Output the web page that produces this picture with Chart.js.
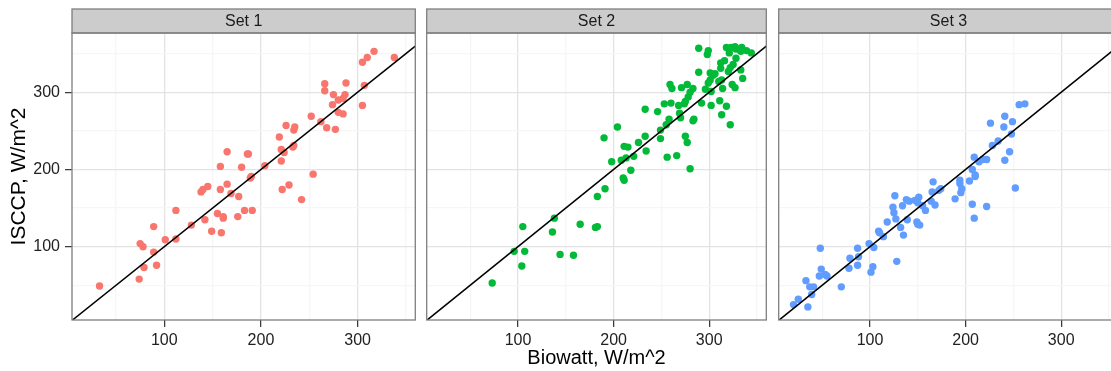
<!DOCTYPE html>
<html>
<head>
<meta charset="utf-8">
<script src="https://cdn.jsdelivr.net/npm/chart.js@4.4.1/dist/chart.umd.min.js"></script>
<style>
  html, body { margin: 0; padding: 0; width: 1111px; height: 371px; overflow: hidden; background: #ffffff; }
  canvas { position: absolute; top: 0; }
</style>
</head>
<body>
<canvas id="c1" width="419" height="371" style="left:0px"></canvas>
<canvas id="c2" width="347" height="371" style="left:423px"></canvas>
<canvas id="c3" width="347" height="371" style="left:775px"></canvas>
<script>
// ---- data -------------------------------------------------------------
const panelTitles = ['Set 1', 'Set 2', 'Set 3'];
const xTitle = 'Biowatt, W/m^2';
const yTitle = 'ISCCP, W/m^2';

const set1X = [33,74,79,92,89,75,78,89,101,112,112,128,142,149,159,155,161,161,176,183,191,138,140,145,158,165,169,177,165,158,180,186,187,189,190,204,221,221,224,219,226,234,235,233,234,222,229,242,254,252,262,268,277,274,280,285,266,266,275,280,287,288,285,305,307,305,310,317,338];
const set1Y = [49,58,73,76,93,104,100,126,109,110,147,128,135,120,118,143,137,139,139,147,147,171,174,178,174,181,169,165,223,204,203,220,220,189,191,205,211,226,222,242,257,251,255,229,231,174,180,161,194,269,262,254,252,284,274,272,311,302,297,290,297,312,292,283,309,339,345,353,345];

const set2X = [289,299,298,318,323,327,328,321,328,333,339,344,334,312,316,312,320,322,325,333,335,289,301,304,306,301,299,296,302,310,313,314,324,327,311,302,318,313,322,292,259,261,271,277,283,280,278,275,274,268,260,253,246,233,269,270,258,255,284,283,249,249,275,277,256,266,280,204,190,233,226,211,215,234,221,213,208,198,218,210,211,191,73,96,104,107,105,136,138,144,158,165,181,183,183];
const set2Y = [357,354,349,358,358,359,356,351,344,353,354,351,358,338,341,331,327,332,336,329,318,326,325,322,324,316,312,304,301,314,316,305,310,306,289,283,282,271,258,286,310,305,306,310,305,300,294,288,285,283,286,285,275,278,273,267,265,258,265,263,251,240,243,235,216,218,201,255,241,243,235,230,229,224,217,215,212,210,199,189,186,175,53,94,75,94,126,119,137,90,89,129,125,126,165];

const set3X = [20,25,35,39,37,41,33,47,49,53,55,48,70,78,79,87,88,87,101,103,99,104,109,110,114,118,128,127,125,124,126,134,132,135,139,138,141,147,151,150,149,150,152,155,158,164,165,166,168,172,174,189,194,194,196,195,207,209,204,210,210,207,209,214,218,222,222,228,234,241,246,252,248,240,249,241,226,256,262];
const set3Y = [25,32,22,38,48,48,56,62,71,64,62,98,48,72,85,76,87,98,67,74,104,99,120,118,113,132,81,136,144,151,166,153,125,115,135,161,159,160,164,157,132,129,128,153,147,159,171,184,154,173,175,162,186,182,175,170,155,137,185,191,193,200,216,210,213,213,152,231,237,212,223,176,246,255,262,269,260,284,285];

// grid positions (every 50) and the labelled ones (every 100)
const gridValues = [50, 100, 150, 200, 250, 300, 350];
const tickLabels = [100, 200, 300];

// 1:1 reference line
const refLine = { intercept: 0, slope: 1 };

// ---- appearance ---------------------------------------------------------
const FONT = "'Liberation Sans', Arial, Helvetica, sans-serif";
Chart.defaults.font.family = FONT;
const colors = ['#F8766D', '#00BA38', '#619CFF'];
const X_MIN = 4.5, X_MAX = 359.7;
const Y_MIN = 5.05, Y_MAX = 376.8;
const MAJOR = '#e3e3e3', MINOR = '#f6f6f6', TICK = '#333333', FRAME = '#7f7f7f';

const isMajor = v => tickLabels.includes(v);

// strip header above each panel plus the panel frame
const facetPlugin = {
  id: 'facetFrame',
  afterDraw(chart, args, opts) {
    const { ctx, chartArea: a } = chart;
    ctx.save();
    ctx.fillStyle = '#cccccc';
    ctx.fillRect(a.left, 9, a.right - a.left, a.top - 9);
    ctx.strokeStyle = FRAME;
    ctx.lineWidth = 1.3;
    ctx.strokeRect(a.left, 9, a.right - a.left, a.top - 9);
    ctx.strokeRect(a.left, a.top, a.right - a.left, a.bottom - a.top);
    ctx.fillStyle = '#1a1a1a';
    ctx.font = '16px ' + FONT;
    ctx.textAlign = 'center';
    ctx.textBaseline = 'middle';
    ctx.fillText(opts.title, (a.left + a.right) / 2, (9 + a.top) / 2 + 0.5);
    ctx.restore();
  }
};

function makePanel(canvasId, idx, xs, ys) {
  const first = idx === 0;
  const middle = idx === 1;
  const pts = xs.map((x, i) => ({ x: x, y: ys[i] }));
  const line = [X_MIN, X_MAX].map(x => ({ x: x, y: refLine.intercept + refLine.slope * x }));
  const setTicks = scale => { scale.ticks = gridValues.map(v => ({ value: v })); };
  const gridOpts = {
    color: c => (c.tick && isMajor(c.tick.value)) ? MAJOR : MINOR,
    lineWidth: 1.3,
    tickColor: c => (c.tick && isMajor(c.tick.value)) ? TICK : 'rgba(0,0,0,0)',
    tickLength: 7,
    tickWidth: 1.2
  };
  return new Chart(document.getElementById(canvasId), {
    type: 'scatter',
    data: {
      datasets: [
        {
          type: 'line', data: line, borderColor: '#000000', borderWidth: 1.5,
          pointRadius: 0, fill: false, order: 0
        },
        {
          data: pts, backgroundColor: colors[idx], borderWidth: 0,
          pointRadius: 3.7, pointHoverRadius: 3.7, order: 1
        }
      ]
    },
    options: {
      responsive: false,
      animation: false,
      events: [],
      layout: { padding: { top: 33, right: 2, bottom: 0, left: 0 } },
      plugins: {
        legend: { display: false },
        tooltip: { enabled: false },
        facetFrame: { title: panelTitles[idx] }
      },
      scales: {
        x: {
          type: 'linear', min: X_MIN, max: X_MAX,
          afterBuildTicks: setTicks,
          afterFit: s => { s.height = 51; },
          border: { display: false },
          grid: gridOpts,
          ticks: {
            autoSkip: false, maxRotation: 0, padding: 4,
            color: '#222222', font: { size: 16 },
            callback: v => isMajor(v) ? String(v) : ''
          },
          title: {
            display: middle, text: xTitle, color: '#000000',
            font: { size: 20 }, padding: { top: 0, bottom: 1 }
          }
        },
        y: {
          type: 'linear', min: Y_MIN, max: Y_MAX,
          afterBuildTicks: setTicks,
          afterFit: s => { s.width = first ? 72 : 0; },
          border: { display: false },
          grid: Object.assign({}, gridOpts, { drawTicks: first }),
          ticks: {
            display: first, padding: 5,
            color: '#222222', font: { size: 16 },
            callback: v => isMajor(v) ? String(v) : ''
          },
          title: {
            display: first, text: yTitle, color: '#000000',
            font: { size: 21 }, padding: { top: 7, bottom: 0 }
          }
        }
      }
    },
    plugins: [facetPlugin]
  });
}

makePanel('c1', 0, set1X, set1Y);
makePanel('c2', 1, set2X, set2Y);
makePanel('c3', 2, set3X, set3Y);
</script>
</body>
</html>
